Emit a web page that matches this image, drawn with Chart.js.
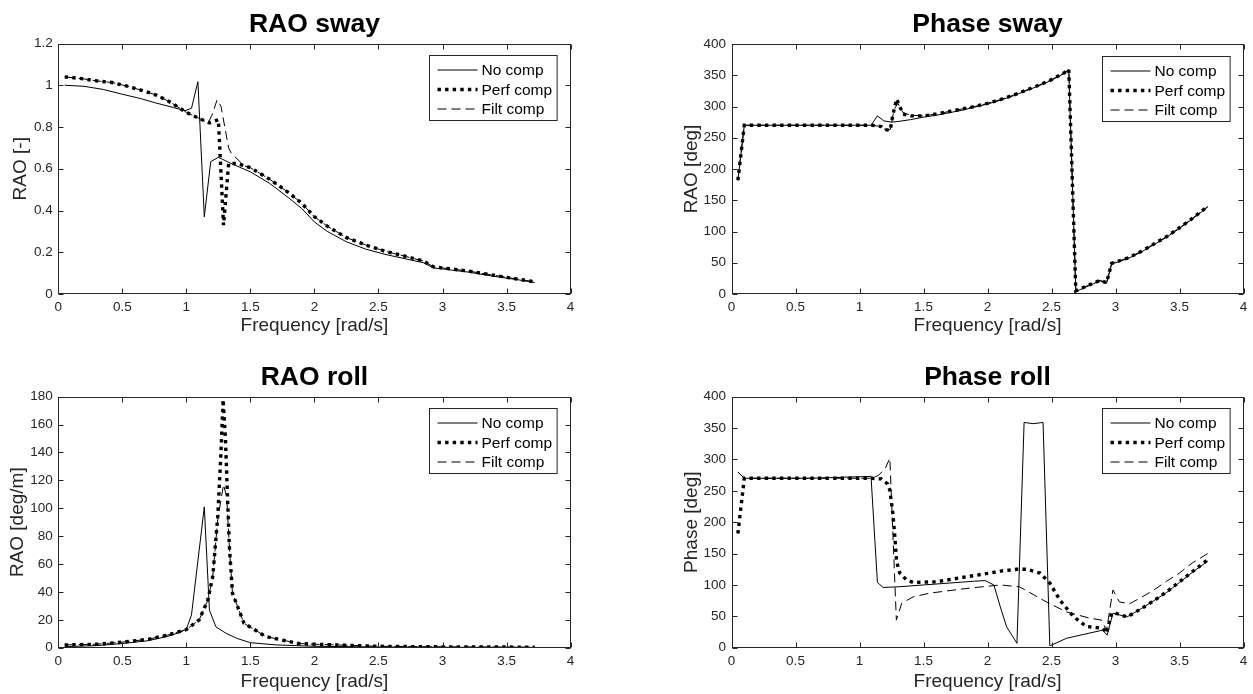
<!DOCTYPE html>
<html>
<head>
<meta charset="utf-8">
<script src="https://cdn.jsdelivr.net/npm/chart.js@4.4.1/dist/chart.umd.min.js"></script>
<style>
  body { margin: 0; background: #fff; }
  #page { position: relative; width: 1253px; height: 694px; overflow: hidden; }
  canvas { position: absolute; }
</style>
</head>
<body>
<div id="page">
  <canvas id="raoSway" style="left:0;top:0" width="626" height="347"></canvas>
  <canvas id="phaseSway" style="left:626px;top:0" width="627" height="347"></canvas>
  <canvas id="raoRoll" style="left:0;top:347px" width="626" height="347"></canvas>
  <canvas id="phaseRoll" style="left:626px;top:347px" width="627" height="347"></canvas>
</div>
<script>
// ---- RAO sway [-] ----
const swayNoFreq = [0.05, 0.2, 0.35, 0.5, 0.65, 0.75, 0.9, 0.99, 1.04, 1.09, 1.14, 1.19, 1.25, 1.35, 1.5, 1.65, 1.8, 1.9, 2.0, 2.1, 2.25, 2.4, 2.55, 2.7, 2.85, 2.93, 3.0, 3.2, 3.4, 3.6, 3.72];
const swayNoRao = [1.0, 0.995, 0.98, 0.957, 0.935, 0.917, 0.893, 0.878, 0.89, 1.017, 0.37, 0.634, 0.655, 0.625, 0.585, 0.53, 0.46, 0.41, 0.345, 0.30, 0.25, 0.215, 0.19, 0.17, 0.15, 0.125, 0.12, 0.105, 0.085, 0.067, 0.055];
const swayPerfFreq = [0.05, 0.18, 0.3, 0.42, 0.53, 0.65, 0.77, 0.88, 1.0, 1.11, 1.18, 1.25, 1.29, 1.33, 1.4, 1.5, 1.65, 1.8, 1.9, 2.0, 2.1, 2.25, 2.4, 2.55, 2.7, 2.85, 2.93, 3.0, 3.2, 3.4, 3.6, 3.72];
const swayPerfRao = [1.04, 1.032, 1.021, 1.013, 0.997, 0.976, 0.952, 0.917, 0.87, 0.838, 0.82, 0.835, 0.33, 0.625, 0.625, 0.605, 0.55, 0.485, 0.435, 0.37, 0.325, 0.27, 0.235, 0.205, 0.182, 0.158, 0.13, 0.125, 0.11, 0.09, 0.07, 0.058];
const swayFiltFreq = [0.05, 0.18, 0.3, 0.42, 0.53, 0.65, 0.77, 0.88, 1.0, 1.11, 1.17, 1.2, 1.24, 1.27, 1.33, 1.35, 1.45, 1.5, 1.65, 1.8, 1.9, 2.0, 2.1, 2.25, 2.4, 2.55, 2.7, 2.85, 2.93, 3.0, 3.2, 3.4, 3.6, 3.72];
const swayFiltRao = [1.04, 1.032, 1.021, 1.013, 0.997, 0.976, 0.952, 0.917, 0.87, 0.838, 0.82, 0.857, 0.93, 0.90, 0.70, 0.675, 0.615, 0.605, 0.55, 0.485, 0.435, 0.37, 0.325, 0.27, 0.235, 0.205, 0.182, 0.158, 0.13, 0.125, 0.11, 0.09, 0.07, 0.058];

// ---- Phase sway [deg] ----
const phSwayNoFreq = [0.05, 0.1, 0.6, 1.09, 1.14, 1.19, 1.25, 1.3, 1.4, 1.5, 1.6, 1.7, 1.8, 1.9, 2.0, 2.1, 2.2, 2.3, 2.4, 2.5, 2.6, 2.635, 2.69, 2.8, 2.88, 2.93, 2.97, 3.0, 3.1, 3.2, 3.3, 3.4, 3.5, 3.6, 3.72];
const phSwayNo = [182, 270, 270, 270, 285, 277, 275, 276, 279, 283, 286, 290, 294, 299, 304, 310, 317, 325, 333, 342, 353, 359, 4, 14, 21, 17, 48, 50, 57, 67, 79, 91, 105, 120, 139];
const phSwayPerfFreq = [0.05, 0.1, 0.6, 1.05, 1.1, 1.17, 1.2, 1.24, 1.26, 1.29, 1.315, 1.34, 1.4, 1.5, 1.6, 1.7, 1.8, 1.9, 2.0, 2.1, 2.2, 2.3, 2.4, 2.5, 2.6, 2.635, 2.69, 2.8, 2.88, 2.93, 2.97, 3.0, 3.1, 3.2, 3.3, 3.4, 3.5, 3.6, 3.72];
const phSwayPerf = [182, 270, 270, 270, 270, 268, 263, 262, 286, 312, 300, 288, 285, 285, 288, 292, 296, 300, 305, 311, 318, 326, 334, 343, 354, 359.5, 5, 15, 22, 18, 49, 51, 58, 68, 80, 92, 106, 121, 140];
const phSwayFiltFreq = [0.05, 0.1, 0.6, 1.05, 1.1, 1.17, 1.2, 1.24, 1.27, 1.3, 1.34, 1.4, 1.5, 1.6, 1.7, 1.8, 1.9, 2.0, 2.1, 2.2, 2.3, 2.4, 2.5, 2.6, 2.635, 2.69, 2.8, 2.88, 2.93, 2.97, 3.0, 3.1, 3.2, 3.3, 3.4, 3.5, 3.6, 3.72];
const phSwayFilt = [182, 270, 270, 270, 270, 268, 263, 263, 295, 305, 290, 286, 285, 288, 292, 296, 300, 305, 311, 318, 326, 334, 343, 354, 359.5, 5, 15, 22, 18, 49, 51, 58, 68, 80, 92, 106, 121, 140];

// ---- RAO roll [deg/m] ----
const rollNoFreq = [0.05, 0.3, 0.5, 0.7, 0.85, 0.95, 1.0, 1.04, 1.14, 1.18, 1.23, 1.31, 1.4, 1.5, 1.7, 2.0, 2.5, 3.0, 3.72];
const rollNoRao = [0.8, 1.5, 3, 5, 8, 11, 13.3, 23.5, 101, 27, 15, 10.3, 6.5, 3.6, 2, 1, 0.5, 0.3, 0.2];
const rollPerfFreq = [0.05, 0.3, 0.5, 0.7, 0.85, 1.0, 1.1, 1.167, 1.206, 1.245, 1.27, 1.287, 1.305, 1.32, 1.336, 1.36, 1.45, 1.62, 1.876, 2.0, 2.5, 3.0, 3.72];
const rollPerfRao = [2, 2.5, 4, 6, 9, 13, 20, 34, 51, 94, 140, 178, 150, 111, 72, 39, 17.5, 8, 3, 2.5, 1, 0.6, 0.4];
const rollFiltFreq = [0.05, 0.3, 0.5, 0.7, 0.85, 1.0, 1.1, 1.167, 1.206, 1.245, 1.29, 1.315, 1.336, 1.36, 1.45, 1.62, 1.876, 2.0, 2.5, 3.0, 3.72];
const rollFiltRao = [2, 2.5, 4, 6, 9, 13, 20, 34, 51, 92, 117, 108, 72, 39, 17.5, 8, 3, 2.5, 1, 0.6, 0.4];

// ---- Phase roll [deg] ----
const phRollNoFreq = [0.05, 0.1, 0.6, 1.09, 1.14, 1.185, 1.3, 1.5, 1.7, 1.9, 1.98, 2.05, 2.1, 2.15, 2.23, 2.286, 2.356, 2.434, 2.487, 2.617, 2.9, 2.935, 2.98, 3.09, 3.2, 3.3, 3.4, 3.5, 3.6, 3.72];
const phRollNo = [280, 270, 270, 273, 104, 96, 97, 100, 103, 106, 107, 100, 65, 33, 7, 359, 357, 359, 3, 15, 28, 20, 55, 49, 62, 75, 88, 104, 120, 138];
const phRollPerfFreq = [0.05, 0.1, 0.6, 1.1, 1.17, 1.22, 1.237, 1.26, 1.276, 1.29, 1.315, 1.367, 1.42, 1.6, 1.836, 1.99, 2.1, 2.227, 2.305, 2.41, 2.487, 2.565, 2.67, 2.77, 2.9, 2.93, 2.97, 3.0, 3.09, 3.2, 3.3, 3.4, 3.5, 3.6, 3.72];
const phRollPerf = [182, 270, 270, 270, 269, 261, 251, 215, 177, 137, 119, 108, 104, 105, 113, 118, 122, 125, 125, 119, 103, 76, 50, 34, 31, 23, 55, 55, 49, 62, 75, 89, 105, 121, 140];
const phRollFiltFreq = [0.05, 0.1, 0.6, 1.1, 1.15, 1.2, 1.237, 1.288, 1.33, 1.42, 1.55, 1.86, 2.1, 2.25, 2.46, 2.617, 2.8, 2.89, 2.93, 2.98, 3.03, 3.11, 3.2, 3.3, 3.4, 3.5, 3.6, 3.72];
const phRollFilt = [280, 270, 270, 270, 275, 285, 302, 44, 71, 81, 87, 95, 100, 97, 73, 57, 47, 44, 28, 92, 73, 70, 80, 92, 106, 119, 135, 150];

const seriesLabels = ['No comp', 'Perf comp', 'Filt comp'];
const freqTicks = [0, 0.5, 1, 1.5, 2, 2.5, 3, 3.5, 4];

const FAMILY = '"Liberation Sans", Arial, Helvetica, sans-serif';
const AXIS_GRAY = '#262626';
Chart.defaults.font.family = FAMILY;

// line look per series: solid, thick dotted, thin dashed
const lineStyles = [
  { width: 1, dash: [] },
  { width: 3.4, dash: [3.4, 4.2] },
  { width: 1, dash: [9, 5] }
];

function fmt(v) {
  return String(+Number(v).toFixed(2));
}

// axes box with inward ticks, bold title and an inset legend, matlab style
const matlabAxes = {
  id: 'matlabAxes',
  afterDatasetsDraw(chart, args, opts) {
    const { ctx, chartArea: a, scales: { x, y } } = chart;
    ctx.save();
    ctx.setLineDash([]);
    ctx.strokeStyle = AXIS_GRAY;
    ctx.lineWidth = 1;
    const L = Math.round(a.left) + 0.5, R = Math.round(a.right) - 0.5;
    const T = Math.round(a.top) + 0.5, B = Math.round(a.bottom) - 0.5;
    ctx.strokeRect(L, T, R - L, B - T);
    ctx.beginPath();
    x.ticks.forEach(t => {
      const px = Math.round(x.getPixelForValue(t.value)) + 0.5;
      ctx.moveTo(px, B); ctx.lineTo(px, B - 5);
      ctx.moveTo(px, T); ctx.lineTo(px, T + 5);
    });
    y.ticks.forEach(t => {
      const py = Math.round(y.getPixelForValue(t.value)) + 0.5;
      ctx.moveTo(L, py); ctx.lineTo(L + 5, py);
      ctx.moveTo(R, py); ctx.lineTo(R - 5, py);
    });
    ctx.stroke();

    // title
    ctx.fillStyle = '#000';
    ctx.font = 'bold 26.5px ' + FAMILY;
    ctx.textAlign = 'center';
    ctx.textBaseline = 'alphabetic';
    ctx.fillText(opts.title, (a.left + a.right) / 2, a.top - 12);

    // legend
    const sets = chart.data.datasets;
    ctx.font = '15.5px ' + FAMILY;
    const textW = Math.max(...sets.map(d => ctx.measureText(d.label).width));
    const bw = 52 + textW + 5, bh = 65;
    const bx = Math.round(a.right - 13.7 - bw) + 0.5, by = Math.round(a.top + 11.5) + 0.5;
    ctx.fillStyle = '#fff';
    ctx.fillRect(bx, by, bw, bh);
    ctx.strokeStyle = AXIS_GRAY;
    ctx.lineWidth = 1;
    ctx.strokeRect(bx, by, bw, bh);
    sets.forEach((d, i) => {
      const ry = by + 14.5 + i * 19.5;
      ctx.strokeStyle = '#000';
      ctx.lineWidth = d.borderWidth;
      ctx.setLineDash(d.borderDash);
      ctx.beginPath();
      ctx.moveTo(bx + 8, ry);
      ctx.lineTo(bx + 48, ry);
      ctx.stroke();
      ctx.fillStyle = '#000';
      ctx.textAlign = 'left';
      ctx.textBaseline = 'middle';
      ctx.fillText(d.label, bx + 52, ry + 1);
    });
    ctx.restore();
  }
};

function buildPanel(id, p) {
  const canvas = document.getElementById(id);
  const W = canvas.width, H = canvas.height;
  const xH = H - p.area.bottom;
  const datasets = p.series.map((s, i) => ({
    label: seriesLabels[i],
    data: s[0].map((f, k) => ({ x: f, y: s[1][k] })),
    borderColor: '#000',
    borderWidth: lineStyles[i].width,
    borderDash: lineStyles[i].dash,
    borderCapStyle: 'butt',
    pointRadius: 0,
    tension: 0,
    fill: false,
    order: 3 - i
  }));
  return new Chart(canvas, {
    type: 'line',
    data: { datasets: datasets },
    options: {
      responsive: false,
      animation: false,
      devicePixelRatio: 1,
      layout: { padding: { left: 0, top: p.area.top, right: W - p.area.right, bottom: 0 } },
      plugins: {
        legend: { display: false },
        tooltip: { enabled: false },
        matlabAxes: { title: p.title }
      },
      scales: {
        x: {
          type: 'linear',
          min: 0,
          max: 4,
          grid: { display: false, drawTicks: false },
          border: { display: false },
          afterBuildTicks: s => { s.ticks = freqTicks.map(v => ({ value: v })); },
          ticks: { padding: 5, color: AXIS_GRAY, font: { size: 13.5 }, callback: fmt, maxRotation: 0, autoSkip: false },
          title: { display: true, text: 'Frequency [rad/s]', color: AXIS_GRAY, font: { size: 19 }, padding: { top: 0, bottom: xH - p.xTitleDrop - 11.4 } },
          afterFit: s => { s.height = xH; }
        },
        y: {
          min: 0,
          max: p.yMax,
          grid: { display: false, drawTicks: false },
          border: { display: false },
          afterBuildTicks: s => { s.ticks = p.yTicks.map(v => ({ value: v })); },
          ticks: { padding: 5.5, color: AXIS_GRAY, font: { size: 13.5 }, callback: fmt, autoSkip: false },
          title: { display: true, text: p.yLabel, color: AXIS_GRAY, font: { size: 19 }, padding: { top: p.yTitleX - 11.4, bottom: 0 } },
          afterFit: s => { s.width = p.area.left; }
        }
      }
    },
    plugins: [matlabAxes]
  });
}

buildPanel('raoSway', {
  title: 'RAO sway', yLabel: 'RAO [-]', yMax: 1.2,
  yTicks: [0, 0.2, 0.4, 0.6, 0.8, 1, 1.2],
  area: { left: 58.3, top: 43.5, right: 570.6, bottom: 294 }, yTitleX: 21, xTitleDrop: 32,
  series: [[swayNoFreq, swayNoRao], [swayPerfFreq, swayPerfRao], [swayFiltFreq, swayFiltRao]]
});
buildPanel('phaseSway', {
  title: 'Phase sway', yLabel: 'RAO [deg]', yMax: 400,
  yTicks: [0, 50, 100, 150, 200, 250, 300, 350, 400],
  area: { left: 105.5, top: 44, right: 617.5, bottom: 294 }, yTitleX: 65.5, xTitleDrop: 32,
  series: [[phSwayNoFreq, phSwayNo], [phSwayPerfFreq, phSwayPerf], [phSwayFiltFreq, phSwayFilt]]
});
buildPanel('raoRoll', {
  title: 'RAO roll', yLabel: 'RAO [deg/m]', yMax: 180,
  yTicks: [0, 20, 40, 60, 80, 100, 120, 140, 160, 180],
  area: { left: 58.3, top: 49.7, right: 570.6, bottom: 300.7 }, yTitleX: 17.5, xTitleDrop: 34,
  series: [[rollNoFreq, rollNoRao], [rollPerfFreq, rollPerfRao], [rollFiltFreq, rollFiltRao]]
});
buildPanel('phaseRoll', {
  title: 'Phase roll', yLabel: 'Phase [deg]', yMax: 400,
  yTicks: [0, 50, 100, 150, 200, 250, 300, 350, 400],
  area: { left: 105.5, top: 49.7, right: 617.5, bottom: 300.7 }, yTitleX: 66, xTitleDrop: 34,
  series: [[phRollNoFreq, phRollNo], [phRollPerfFreq, phRollPerf], [phRollFiltFreq, phRollFilt]]
});
</script>
</body>
</html>
